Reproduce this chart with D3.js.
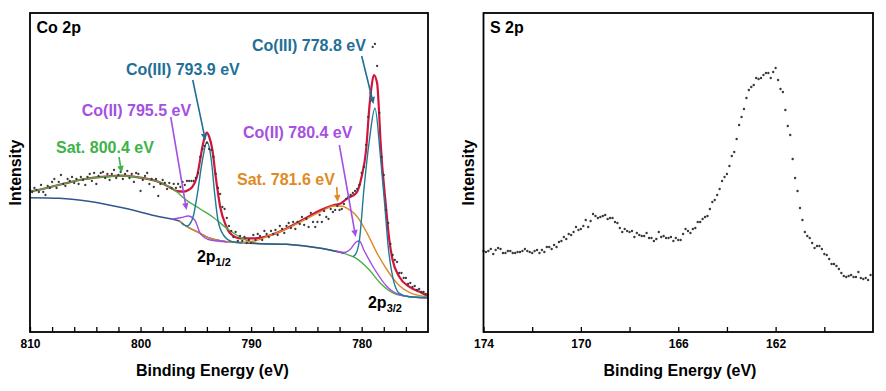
<!DOCTYPE html>
<html>
<head>
<meta charset="utf-8">
<script src="https://cdn.jsdelivr.net/npm/d3@7"></script>
<style>
  body { margin: 0; background: #fff; }
  svg { display: block; font-family: Arial, "Liberation Sans", sans-serif; }
</style>
</head>
<body>
<svg id="chart" width="886" height="391"></svg>
<script>
// ---- Co 2p: measured points, one every 0.2 eV from 810 eV down to 774 eV
const coStart = 810, coStep = 0.2;
const coCounts = [
  142,140,144,142,140,147,140,137,146,144, 150,153,144,150,157,148,146,153,151,155,
  149,153,148,155,152,147,155,158,151,159, 148,156,159,160,154,158,152,158,162,154,
  157,160,153,158,161,154,158,150,159,158, 141,152,156,159,148,153,145,153,136,148,
  152,149,143,149,144,148,144,
  148,145,150,147,151,151,151,151,154,159, 175,183,186,189,183,182,175,158,144,138,
  125,123,114,106,101,95,100,91,96,91, 95,89,92,89,
  97,92,98,96,92,101,98,95,101,98, 102,97,106,103,99,106,109,104,110,103,
  110,108,115,107,113,105,119,110,105,110, 117,110,121,115,113,123,120,122,126,122,
  123,128,133,135,137,
  139,141,143,147,159,165,187,215,239,285, 288,266,219,175,157,122,109,88,77,72,
  70,59,59,54,54,48,49,45,46,42, 43,40,40,38,37
];

// fitted curves, [binding energy, intensity]
const coEnvelope = [
  [810,140.3],[808.6,143.7],[806.8,148.7],[805,153],[803.2,155.3],[801.6,156.3],[800.2,154.7],
  [798.4,150.3],[797.4,145],[796.7,140.8],[796.1,140.3],[795.6,142.5],[795.3,145.3],[794.9,155.3],
  [794.4,185.3],[794.2,195],[794.0,199.3],[793.8,195.5],[793.5,182],[793.2,155.3],[792.8,125.3],
  [792.3,107],[791.9,98.7],[791.0,93.7],[789.7,93.7],[788.2,97],[786.7,104],[785.2,113],[783.7,122],
  [782.5,127],[781.9,128.5],[781.3,133.7],[780.5,138.7],[780.0,155.5],[779.6,182],[779.3,225.3],
  [779.1,246],[778.9,257],[778.6,248.7],[778.45,225],[778.3,192],[777.8,125.3],[777.5,92],[777.2,72],
  [776.6,55.3],[775.7,45.3],[774.5,38.7],[774,35.3]
];
const coBackground = [
  [810,134.3],[807.4,133.7],[804.4,130.3],[801.4,123.7],[798.3,115.3],[796.5,111],[796.1,107.5],
  [794.9,100.3],[793.7,93.7],[792.2,90.3],[791.0,89.5],[789.7,88.5],[786.8,87.7],[783.7,83.7],
  [781.6,78.7],[780.8,75.3],[780.5,73.7],[779.3,62],[778.3,48.7],[777.1,38.7],[775.6,35.3],[774,34.5]
];
const coSat800 = [
  [810,140.3],[808.6,143.7],[806.8,148.7],[805,153],[803.2,155.3],[801.6,156.3],[800.2,154.7],
  [798.4,150.3],[796.7,140],[796.1,134],[794.6,123],[793.5,115.3],[792.0,102],[790.8,93.7],
  [790.0,90],[789.0,88.3],[786.8,87.7],[783.7,83.7],[781.6,78.7],[780.8,75.3],[780.5,73.7],
  [779.3,62],[778.3,48.7],[777.1,38.7],[775.6,35.3],[774,34.5]
];
const coSat781 = [
  [796.5,111],[796.1,107.5],[794.9,100.3],[793.7,93.7],[792.2,90.3],[791.0,89.5],[789.7,91],
  [788.2,97],[786.7,103.7],[785.2,112],[783.7,120.3],[782.5,126],[781.9,126],[781.3,123.7],
  [780.4,115.3],[779.5,98.7],[778.6,78.7],[777.7,62],[776.8,48.7],[775.5,38.7],[774,35.3]
];
const coIII794 = [
  [796.3,109],[795.8,106],[795.5,108.5],[795.2,117],[794.9,135.3],[794.4,172],[794.0,190.3],
  [793.6,172],[793.3,138.7],[793.0,112],[792.5,97],[791.7,90.3],[790.8,89]
];
const coII796 = [
  [797.1,113],[796.3,114.5],[795.7,116],[795.1,112],[794.6,98.7],[793.7,92],[792.2,90.3]
];
const coIII779 = [
  [780.8,75.3],[780.5,78.7],[780.2,92],[779.8,142],[779.3,192],[778.8,223.7],[778.3,175.3],
  [777.9,125.3],[777.6,85.3],[777.2,55.3],[776.6,38.7],[775.7,35.3],[774,34.5]
];
const coII780 = [
  [782.3,81],[781.6,79.5],[781.0,83],[780.5,90],[780.2,91],[779.8,82],[778.9,64],[777.7,45.3],
  [776.5,37],[775,34.5],[774,34]
];

const coMajorTicks = [810, 800, 790, 780];
const coMinorTicks = [808,806,804,802,798,796,794,792,788,786,784,782,778,776];

// labels: text, colour, text anchor [eV, I], arrow from, arrow to
const coNotes = [
  {text: "Co(III) 778.8 eV", color: "#1f6f96", at: [789.92, 281.5], from: [780.0, 276], to: [778.93, 228]},
  {text: "Co(III) 793.9 eV", color: "#1f6f96", at: [801.32, 257], from: [795.28, 252], to: [794.13, 191.5]},
  {text: "Co(II) 795.5 eV", color: "#a550e2", at: [805.32, 216], from: [797.27, 215], to: [795.84, 122]},
  {text: "Co(II) 780.4 eV", color: "#a550e2", at: [790.73, 194], from: [782.02, 187], to: [780.54, 95]},
  {text: "Sat. 800.4 eV", color: "#3db34a", at: [807.65, 179], from: [801.95, 175], to: [801.71, 159]},
  {text: "Sat. 781.6 eV", color: "#e08a24", at: [791.28, 147.5], from: [782.26, 145], to: [782.17, 130]}
];
const coOrbitals = [
  {main: "2p", sub: "1/2", at: [794.9, 70]},
  {main: "2p", sub: "3/2", at: [779.43, 24]}
];

// ---- S 2p: measured points, one every 0.1 eV from 174 eV down to 158.1 eV
const sStart = 174, sStep = 0.1;
const sCounts = [
  81,80,81,83,78,82,84,83,79,79, 81,81,79,79,80,80,81,83,81,80,
  79,81,82,79,82,80,85,85,83,87, 85,90,91,95,93,98,97,100,105,102,
  103,106,112,105,111,118,116,114,115,116, 117,113,114,114,110,109,104,100,
  103,101,100,101,95,99,97,96,96,99, 94,94,91,93,100,95,96,94,94,95,
  91,94,92,92,98,103,101,99,103,104, 110,110,113,115,116,123,130,132,137,
  143,151,155,158,166,176,180,193,207,215, 223,234,242,245,247,254,253,254,257,259,
  259,254,260,264,252,243,240,222,206,197, 173,154,141,124,112,100,96,94,89,84,
  86,86,83,78,77,73,68,68,66,63, 59,56,55,56,57,55,55,60,54,53, 54,52,57
];
const sMajorTicks = [174, 170, 166, 162];
const sMinorTicks = [172, 168, 164, 160];

// ---- layout
const svg = d3.select("#chart");
const left = {x0: 30, x1: 428, y0: 13, y1: 332};
const right = {x0: 483.5, x1: 873, y0: 13, y1: 332};

const xCo = d3.scaleLinear().domain([810, 774]).range([left.x0, left.x1]);
const yCo = d3.scaleLinear().domain([0, 319]).range([left.y1, left.y0]);
const xS = d3.scaleLinear().domain([174, 158]).range([right.x0, right.x1]);
const yS = d3.scaleLinear().domain([0, 319]).range([right.y1, right.y0]);

const dotColor = "#3a3a3a";

function drawCurve(g, pts, color, width, x, y) {
  const line = d3.line().x(d => x(d[0])).y(d => y(d[1])).curve(d3.curveMonotoneX);
  g.append("path")
    .attr("d", line(pts))
    .attr("fill", "none")
    .attr("stroke", color)
    .attr("stroke-width", width)
    .attr("stroke-linejoin", "round");
}

function drawArrow(g, from, to, color, x, y) {
  const x1 = x(from[0]), y1 = y(from[1]), x2 = x(to[0]), y2 = y(to[1]);
  const a = Math.atan2(y2 - y1, x2 - x1);
  const len = 7, w = 3.2;
  const bx = x2 - len * Math.cos(a), by = y2 - len * Math.sin(a);
  g.append("line")
    .attr("x1", x1).attr("y1", y1).attr("x2", bx).attr("y2", by)
    .attr("stroke", color).attr("stroke-width", 1.6);
  g.append("path")
    .attr("d", `M${x2},${y2}L${bx + w * Math.sin(a)},${by - w * Math.cos(a)}L${bx - w * Math.sin(a)},${by + w * Math.cos(a)}Z`)
    .attr("fill", color);
}

function drawFrame(panel, x, major, minor, title, xTitleX) {
  const g = svg.append("g");
  // bottom axis with inward ticks
  const axis = d3.axisBottom(x)
    .tickValues(major.concat(minor))
    .tickSize(-5)
    .tickPadding(7)
    .tickFormat(d => major.includes(d) ? d : "");
  const ax = g.append("g")
    .attr("transform", `translate(0,${panel.y1})`)
    .call(axis);
  ax.select(".domain").remove();
  ax.selectAll(".tick line").attr("stroke", "#000").attr("stroke-width", 1.3);
  ax.selectAll(".tick text")
    .attr("font-size", 12).attr("font-weight", "bold")
    .attr("font-family", "Arial, 'Liberation Sans', sans-serif")
    .attr("fill", "#000");

  g.append("rect")
    .attr("x", panel.x0).attr("y", panel.y0)
    .attr("width", panel.x1 - panel.x0).attr("height", panel.y1 - panel.y0)
    .attr("fill", "none").attr("stroke", "#000").attr("stroke-width", 1.8);

  g.append("text")
    .attr("x", xTitleX).attr("y", 376)
    .attr("text-anchor", "middle")
    .attr("font-size", 16).attr("font-weight", "bold")
    .text("Binding Energy (eV)");

  g.append("text")
    .attr("transform", `translate(${panel.x0 - 9.5},${(panel.y0 + panel.y1) / 2}) rotate(-90)`)
    .attr("text-anchor", "middle")
    .attr("font-size", 16).attr("font-weight", "bold")
    .text("Intensity");

  g.append("text")
    .attr("x", panel.x0 + 6.5).attr("y", panel.y0 + 19.5)
    .attr("font-size", 16).attr("font-weight", "bold")
    .text(title);
}

// ---- Co 2p panel
const gCo = svg.append("g");
drawCurve(gCo, coEnvelope, "#d2143c", 2.2, xCo, yCo);
drawCurve(gCo, coSat800, "#49b046", 1.4, xCo, yCo);
drawCurve(gCo, coBackground.filter(d => d[0] >= 781.6), "#33568e", 1.5, xCo, yCo);
drawCurve(gCo, coSat781, "#e0892a", 1.4, xCo, yCo);
drawCurve(gCo, coII796, "#a24ddf", 1.4, xCo, yCo);
drawCurve(gCo, coII780, "#a24ddf", 1.4, xCo, yCo);
drawCurve(gCo, coIII794, "#1f7a98", 1.4, xCo, yCo);
drawCurve(gCo, coIII779, "#1f7a98", 1.4, xCo, yCo);

gCo.selectAll("circle")
  .data(coCounts.map((v, i) => [coStart - i * coStep, v]))
  .join("circle")
  .attr("cx", d => xCo(d[0]))
  .attr("cy", d => yCo(d[1]))
  .attr("r", 1.15)
  .attr("fill", dotColor);

coNotes.forEach(n => {
  gCo.append("text")
    .attr("x", xCo(n.at[0])).attr("y", yCo(n.at[1]))
    .attr("font-size", 16).attr("font-weight", "bold")
    .attr("fill", n.color)
    .text(n.text);
  drawArrow(gCo, n.from, n.to, n.color, xCo, yCo);
});

coOrbitals.forEach(o => {
  const t = gCo.append("text")
    .attr("x", xCo(o.at[0])).attr("y", yCo(o.at[1]))
    .attr("font-size", 16).attr("font-weight", "bold")
    .attr("fill", "#000");
  t.append("tspan").text(o.main);
  t.append("tspan").attr("font-size", 11).attr("dy", 4).text(o.sub);
});

drawFrame(left, xCo, coMajorTicks, coMinorTicks, "Co 2p", 212.5);

// ---- S 2p panel
const gS = svg.append("g");
gS.selectAll("circle")
  .data(sCounts.map((v, i) => [sStart - i * sStep, v]))
  .join("circle")
  .attr("cx", d => xS(d[0]))
  .attr("cy", d => yS(d[1]))
  .attr("r", 1.2)
  .attr("fill", dotColor);

drawFrame(right, xS, sMajorTicks, sMinorTicks, "S 2p", 680);
</script>
</body>
</html>
